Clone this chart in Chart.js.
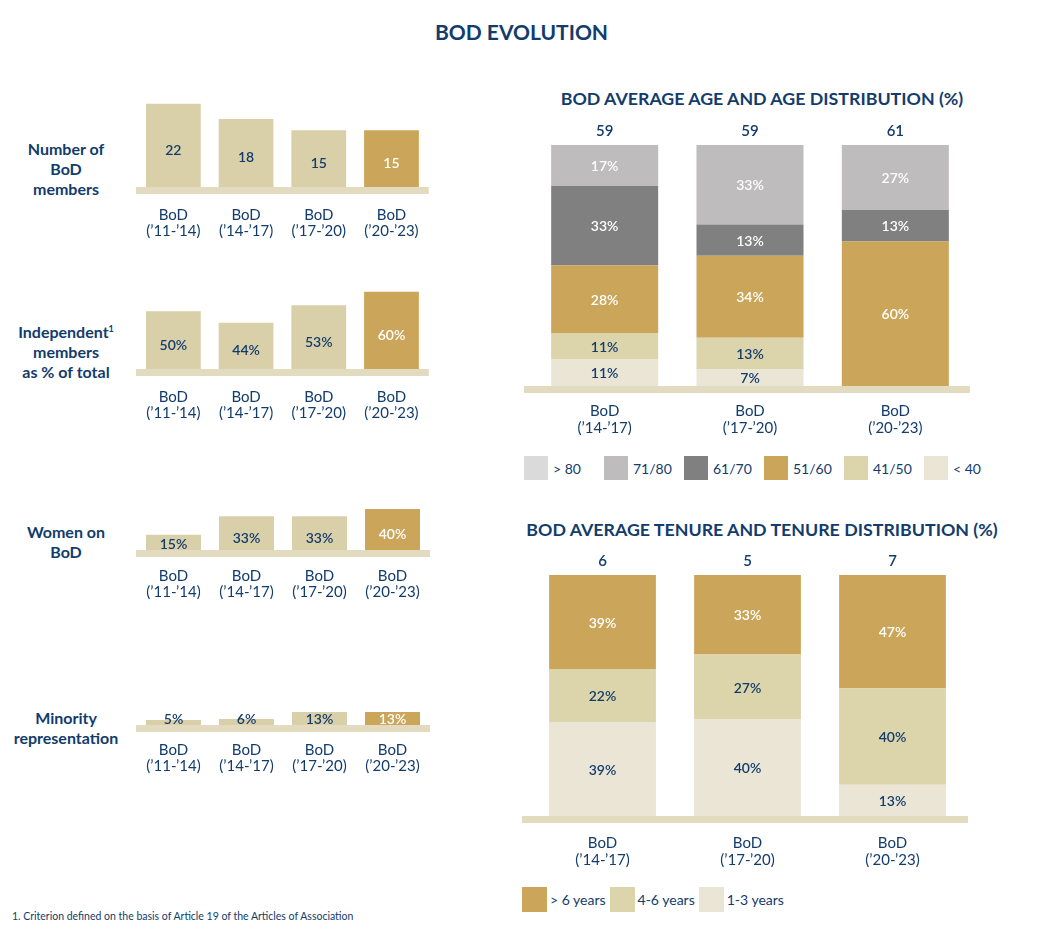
<!DOCTYPE html>
<html>
<head>
<meta charset="utf-8">
<script src="https://cdn.jsdelivr.net/npm/chart.js@4.4.1/dist/chart.umd.min.js"></script>
<style>
  body { margin: 0; background: #fff; font-family: 'Lato', sans-serif; color: #123c6c; }
  #page { position: relative; width: 1043px; height: 947px; overflow: hidden; }
  .abs { position: absolute; }
  .title { font-weight: 700; text-align: center; white-space: nowrap; }
  .rowlabel { left: 0; width: 132px; text-align: center; font-weight: 700; font-size: 16px; line-height: 20px; }
  .rowlabel sup { font-size: 9px; line-height: 0; vertical-align: 6px; }
  .legend { font-size: 14px; }
  .legend .item { position: absolute; top: 0; height: 24px; display: flex; align-items: center; white-space: nowrap; }
  .legend .sw { width: 24px; height: 24px; margin-right: 5px; }
  .legend2 { display: flex; font-size: 14px; }
  .legend2 .item { display: flex; align-items: center; margin-right: 4px; white-space: nowrap; }
  .legend2 .sw { width: 25px; height: 25px; margin-right: 3px; }
</style>
</head>
<body>
<div id="page">
  <div class="abs title" style="left:0;width:1043px;top:16px;font-size:21px;line-height:32px;">BOD EVOLUTION</div>

  <div class="abs rowlabel" style="top:139px;">Number of<br>BoD<br>members</div>
  <div class="abs rowlabel" style="top:322px;">Independent<sup>1</sup><br>members<br>as % of total</div>
  <div class="abs rowlabel" style="top:522px;">Women on<br>BoD</div>
  <div class="abs rowlabel" style="top:708px;">Minority<br>representation</div>

  <canvas id="c1" class="abs" width="320" height="147" style="left:120px;top:95px;"></canvas>
  <canvas id="c2" class="abs" width="320" height="141" style="left:120px;top:283px;"></canvas>
  <canvas id="c3" class="abs" width="320" height="105" style="left:120px;top:500px;"></canvas>
  <canvas id="c4" class="abs" width="320" height="80" style="left:120px;top:700px;"></canvas>

  <div class="abs title" style="left:492px;width:540px;top:86px;font-size:17.8px;line-height:24px;">BOD AVERAGE AGE AND AGE DISTRIBUTION (%)</div>
  <canvas id="age" class="abs" width="500" height="340" style="left:500px;top:110px;"></canvas>
  <div id="ageLegend" class="abs legend" style="left:524px;top:456px;width:480px;height:24px;"></div>

  <div class="abs title" style="left:492px;width:540px;top:517px;font-size:17.8px;line-height:24px;">BOD AVERAGE TENURE AND TENURE DISTRIBUTION (%)</div>
  <canvas id="tenure" class="abs" width="500" height="340" style="left:500px;top:540px;"></canvas>
  <div id="tenureLegend" class="abs legend2" style="left:522px;top:887px;"></div>

  <div class="abs" style="left:12px;top:909px;font-size:10.5px;line-height:14px;">1. Criterion defined on the basis of Article 19 of the Articles of Association</div>
</div>

<script>
// --- data ---
const leftPeriods = ['’11-’14', '’14-’17', '’17-’20', '’20-’23'];
const boardMembers = [22, 18, 15, 15];
const independentPct = [50, 44, 53, 60];
const womenPct = [15, 33, 33, 40];
const minorityPct = [5, 6, 13, 13];

const rightPeriods = ['’14-’17', '’17-’20', '’20-’23'];
const avgAge = [59, 59, 61];
const ageGroups = ['> 80', '71/80', '61/70', '51/60', '41/50', '< 40'];
const ageOver80 = [0, 0, 0];
const age71to80 = [17, 33, 27];
const age61to70 = [33, 13, 13];
const age51to60 = [28, 34, 60];
const age41to50 = [11, 13, 0];
const ageUnder40 = [11, 7, 0];

const avgTenure = [6, 5, 7];
const tenureGroups = ['> 6 years', '4-6 years', '1-3 years'];
const tenureOver6 = [39, 33, 47];
const tenure4to6 = [22, 27, 40];
const tenure1to3 = [39, 40, 13];

// --- colours ---
const NAVY = '#123c6c';
const GOLD = '#cba65a';
const BEIGE = '#d9cfa9';
const BAND = '#e3dbc0';
const ageColors = ['#dadada', '#bebcbc', '#808080', GOLD, '#dcd4ab', '#eae5d5'];
const ageText = ['#fff', '#fff', '#fff', '#fff', NAVY, NAVY];
const tenureColors = [GOLD, '#dcd4ab', '#eae5d5'];
const tenureText = ['#fff', NAVY, NAVY];

Chart.defaults.font.family = 'Lato';
Chart.defaults.color = NAVY;

// light strip under the bars
const bandPlugin = {
  id: 'band',
  beforeDatasetsDraw(chart, args, opts) {
    const a = chart.chartArea, ctx = chart.ctx;
    ctx.save();
    ctx.fillStyle = BAND;
    ctx.fillRect(a.left - opts.extL, a.bottom, a.right - a.left + opts.extL + opts.extR, 7);
    ctx.restore();
  }
};

// value written inside every bar / segment
const valuePlugin = {
  id: 'values',
  afterDatasetsDraw(chart, args, opts) {
    const ctx = chart.ctx;
    ctx.save();
    ctx.font = '600 14px Lato';
    ctx.textAlign = 'center';
    ctx.textBaseline = 'middle';
    chart.data.datasets.forEach((ds, di) => {
      const meta = chart.getDatasetMeta(di);
      meta.data.forEach((bar, i) => {
        const v = ds.data[i];
        if (!v) return;
        const base = Math.min(bar.base, chart.chartArea.bottom);
        let y = (bar.y + base) / 2;
        if (opts.left) y = Math.min(y + 5, base - 6);
        else y += 1;
        ctx.fillStyle = opts.colors(di, i);
        ctx.fillText(v + (opts.suffix || ''), bar.x, y);
      });
    });
    ctx.restore();
  }
};

// average shown above each stacked bar
const topPlugin = {
  id: 'tops',
  afterDatasetsDraw(chart, args, opts) {
    const ctx = chart.ctx;
    const meta = chart.getDatasetMeta(0);
    ctx.save();
    ctx.font = '600 15px Lato';
    ctx.fillStyle = NAVY;
    ctx.textAlign = 'center';
    ctx.textBaseline = 'middle';
    meta.data.forEach((bar, i) => {
      ctx.fillText(String(opts.values[i]), bar.x, chart.chartArea.top - 14);
    });
    ctx.restore();
  }
};

function leftChart(id, values, yMin, yMax, padTop, tickPad, suffix) {
  const colors = values.map((v, i) => i === values.length - 1 ? GOLD : BEIGE);
  new Chart(document.getElementById(id), {
    type: 'bar',
    data: {
      labels: leftPeriods.map(p => ['BoD', '(' + p + ')']),
      datasets: [{ data: values, backgroundColor: colors, barPercentage: 55 / 73, categoryPercentage: 1 }]
    },
    options: {
      responsive: false,
      animation: false,
      layout: { padding: { left: 17, right: 11, top: padTop, bottom: 0 } },
      scales: {
        x: {
          grid: { display: false, drawTicks: false },
          border: { display: false },
          ticks: { padding: tickPad, color: NAVY, font: { size: 15, lineHeight: '16px' }, maxRotation: 0, autoSkip: false },
          afterFit: s => { s.height = 55; }
        },
        y: { display: false, min: yMin, max: yMax }
      },
      plugins: {
        legend: { display: false },
        tooltip: { enabled: false },
        band: { extL: 1, extR: 1 },
        values: { left: true, suffix: suffix, colors: (di, i) => i === values.length - 1 ? '#fff' : NAVY }
      }
    },
    plugins: [bandPlugin, valuePlugin]
  });
}

leftChart('c1', boardMembers, 0, 23, 5, 20, '');
leftChart('c2', independentPct, 20, 62, 5, 20, '%');
leftChart('c3', womenPct, 0, 44, 5, 18, '%');
leftChart('c4', minorityPct, 0, 16, 9, 17, '%');

function stackChart(id, series, colors, textColors, groups, tops, pad, tickPad, lh, extL, extR) {
  // series listed top to bottom; reversed so the first dataset sits at the bottom of the stack
  const datasets = series.map((s, k) => ({
    label: groups[k], data: s, backgroundColor: colors[k],
    barPercentage: 107 / 145.3, categoryPercentage: 1
  })).reverse();
  const txt = textColors.slice().reverse();
  new Chart(document.getElementById(id), {
    type: 'bar',
    data: { labels: rightPeriods.map(p => ['BoD', '(' + p + ')']), datasets: datasets },
    options: {
      responsive: false,
      animation: false,
      layout: { padding: { left: pad.l, right: pad.r, top: 35, bottom: 0 } },
      scales: {
        x: {
          stacked: true,
          grid: { display: false, drawTicks: false },
          border: { display: false },
          ticks: { padding: tickPad, color: NAVY, font: { size: 15, lineHeight: lh + 'px' }, maxRotation: 0, autoSkip: false },
          afterFit: s => { s.height = 64; }
        },
        y: { display: false, stacked: true, min: 0, max: 100 }
      },
      plugins: {
        legend: { display: false },
        tooltip: { enabled: false },
        band: { extL: extL, extR: extR },
        values: { left: false, suffix: '%', colors: (di) => txt[di] },
        tops: { values: tops }
      }
    },
    plugins: [bandPlugin, valuePlugin, topPlugin]
  });
}

stackChart('age', [ageOver80, age71to80, age61to70, age51to60, age41to50, ageUnder40],
  ageColors, ageText, ageGroups, avgAge, { l: 32, r: 32 }, 17, 17, 8, 2);
stackChart('tenure', [tenureOver6, tenure4to6, tenure1to3],
  tenureColors, tenureText, tenureGroups, avgTenure, { l: 30, r: 35 }, 18, 17.5, 8, 3);

// legends
const ageLegend = document.getElementById('ageLegend');
ageGroups.forEach((g, i) => {
  const it = document.createElement('div');
  it.className = 'item';
  it.style.left = (i * 80) + 'px';
  it.innerHTML = '<div class="sw" style="background:' + ageColors[i] + '"></div><span></span>';
  it.querySelector('span').textContent = g;
  ageLegend.appendChild(it);
});
const tenureLegend = document.getElementById('tenureLegend');
tenureGroups.forEach((g, i) => {
  const it = document.createElement('div');
  it.className = 'item';
  it.innerHTML = '<div class="sw" style="background:' + tenureColors[i] + '"></div><span></span>';
  it.querySelector('span').textContent = g;
  tenureLegend.appendChild(it);
});
</script>
</body>
</html>
